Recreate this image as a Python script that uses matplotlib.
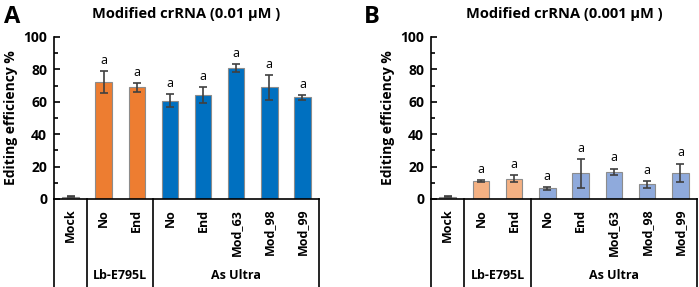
import numpy as np
import matplotlib.pyplot as plt
from matplotlib.ticker import MultipleLocator

plt.rcParams['font.family'] = ['Open Sans', 'DejaVu Sans']
plt.rcParams['font.weight'] = 'bold'

labels = ['Mock', 'No', 'End', 'No', 'End', 'Mod_63', 'Mod_98', 'Mod_99']
groups = [('Lb-E795L', 1, 2), ('As Ultra', 3, 7)]

# panel A: 0.01 uM
vals_a = [1.5, 72, 69, 60.8, 64.3, 80.7, 69, 62.8]
err_a = [0.5, 6.8, 2.8, 3.9, 5.1, 2.6, 7.7, 1.5]
# panel B: 0.001 uM
vals_b = [1.5, 11, 12.5, 6.5, 15.8, 16.9, 9, 16.3]
err_b = [0.3, 0.7, 2.2, 0.8, 8.9, 1.9, 2.3, 5.6]
sig = ['', 'a', 'a', 'a', 'a', 'a', 'a', 'a']

cols_a = ['#BFBFBF', '#ED7D31', '#ED7D31'] + ['#0070C0'] * 5
cols_b = ['#BFBFBF', '#F4B183', '#F4B183'] + ['#8FAADC'] * 5

fig = plt.figure(figsize=(6.99, 2.87), dpi=100)
axA = fig.add_axes([54/699, 1-199/287, 265/699, 162/287])
axB = fig.add_axes([431/699, 1-199/287, 266/699, 162/287])


def panel(ax, vals, errs, cols, title, letter, lx):
    x = np.arange(len(vals))
    ax.bar(x, vals, width=0.5, color=cols, edgecolor='#8C8C8C', linewidth=0.8, zorder=2)
    ax.errorbar(x, vals, yerr=errs, fmt='none', ecolor='#404040', elinewidth=1.2,
                capsize=3, capthick=1.2, zorder=3)
    for xi, v, e, s in zip(x, vals, errs, sig):
        if s:
            ax.text(xi, v + e + 2.5, s, ha='center', va='bottom', fontsize=9, fontweight='normal')
    ax.set_xlim(-0.5, len(vals) - 0.5)
    ax.set_ylim(0, 100)
    ax.yaxis.set_major_locator(MultipleLocator(20))
    ax.yaxis.set_minor_locator(MultipleLocator(10))
    ax.tick_params(axis='y', which='both', direction='in', labelsize=10, width=1.2, pad=5)
    ax.tick_params(axis='y', which='major', length=4)
    ax.tick_params(axis='y', which='minor', length=3)
    for lab in ax.get_yticklabels():
        lab.set_fontweight('bold')
    ax.set_xticks([])
    for sp in ['top', 'right']:
        ax.spines[sp].set_visible(False)
    ax.spines['left'].set_linewidth(1.2)
    ax.spines['bottom'].set_linewidth(1.2)
    ax.set_ylabel('Editing efficiency %', fontsize=10, fontweight='bold', labelpad=4)
    ax.set_title(title, fontsize=10.5, fontweight='bold', pad=14)
    # vertical separators below axis
    tr = ax.get_xaxis_transform()
    for sx in [-0.5, 0.5, 2.5, len(vals) - 0.5]:
        ax.plot([sx, sx], [0, -0.55], color='black', lw=1.2, transform=tr, clip_on=False)
    for xi, lab in zip(x, labels):
        ax.text(xi, -0.06, lab, rotation=90, ha='center', va='top', transform=tr,
                fontsize=9, fontweight='bold')
    for name, a, b in groups:
        ax.text((a + b) / 2, -0.475, name, ha='center', va='center', transform=tr,
                fontsize=9, fontweight='bold')
    fig.text(lx, 0.94, letter, fontsize=17, fontweight='bold', ha='left', va='center')


panel(axA, vals_a, err_a, cols_a, 'Modified crRNA (0.01 µM )', 'A', 0.006)
panel(axB, vals_b, err_b, cols_b, 'Modified crRNA (0.001 µM )', 'B', 0.52)

fig.savefig('out.png', dpi=100)
